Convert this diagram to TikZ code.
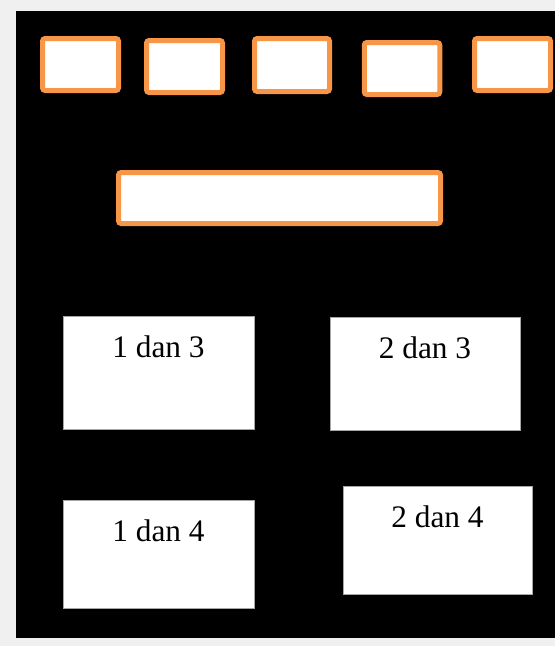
\documentclass[tikz,border=0pt]{standalone}
\usepackage{fontspec}
\setmainfont{Liberation Serif}
\definecolor{pagebg}{HTML}{F0F0F0}
\definecolor{accent}{HTML}{F79646}
\definecolor{thinrule}{HTML}{A6A6A6}
\tikzset{
  slot/.style={draw=accent, fill=white, line width=3.75pt, rounded corners=2pt,
    inner sep=0pt, outer sep=0pt},
  pairbox/.style={draw=thinrule, fill=white, line width=0.75pt, inner sep=0pt,
    outer sep=0pt, anchor=north, text height=30.75pt,
    font=\fontsize{23.5}{28}\selectfont},
}
\begin{document}
\begin{tikzpicture}[x=0.75pt, y=-0.75pt]
  % canvas and dark panel
  \fill[pagebg] (0,0) rectangle (555,646);
  \useasboundingbox (0,0) rectangle (555,646);
  \fill[black] (16,11) rectangle (555,638);

  % row of empty slots
  \node[slot, minimum width=57pt, minimum height=39pt] (s1) at (80.5,64.5) {};
  \node[slot, minimum width=57pt, minimum height=39pt] (s2) at (184.5,66.5) {};
  \node[slot, minimum width=56.25pt, minimum height=39.75pt] (s3) at (292,65) {};
  \node[slot, minimum width=56.625pt, minimum height=39pt] (s4) at (402,68.5) {};
  \node[slot, minimum width=57pt, minimum height=39pt] (s5) at (512.5,64.5) {};

  % wide answer bar
  \node[slot, minimum width=241.5pt, minimum height=38.25pt] (bar) at (279.5,198) {};

  % pair cards
  \node[pairbox, minimum width=143.25pt, text depth=54pt] (p13) at (158.5,316) {1 dan 3};
  \node[pairbox, minimum width=142.5pt, text depth=54pt] (p23) at (425,317) {2 dan 3};
  \node[pairbox, minimum width=143.25pt, text depth=50.25pt] (p14) at (158.5,500) {1 dan 4};
  \node[pairbox, minimum width=141.75pt, text depth=50.25pt] (p24) at (437.5,486) {2 dan 4};
\end{tikzpicture}
\end{document}
